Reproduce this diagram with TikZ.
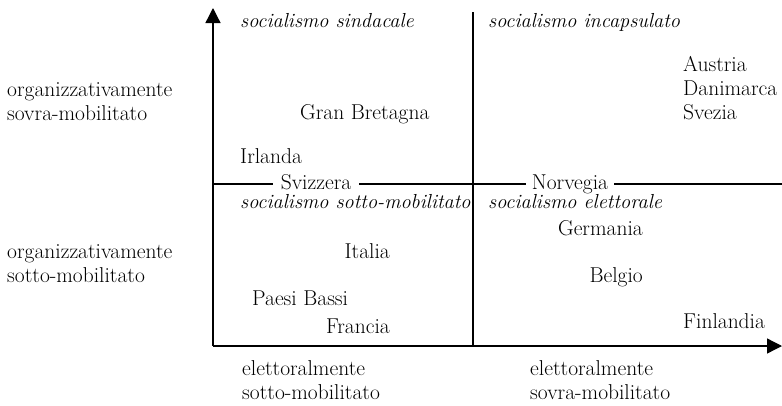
\documentclass[tikz,border=0pt]{standalone}
\usetikzlibrary{arrows.meta}
\begin{document}
\begin{tikzpicture}[x=1pt,y=-1pt,
    lab/.style={font=\fontsize{21.5}{23.5}\selectfont, inner sep=0pt},
    tipo/.style={lab, font=\fontsize{20.3}{23}\selectfont\itshape, anchor=base west},
    paese/.style={lab, anchor=base west},
    asse/.style={line width=1.3pt, -{Triangle[length=15pt,width=15pt]}},
    linea/.style={line width=1.1pt}]
  \useasboundingbox (0,0) rectangle (782,405);
  % axes and dividers
  \coordinate (O) at (213,346);
  \coordinate (ytop) at (213,8);
  \coordinate (xend) at (782,346);
  \coordinate (vtop) at (473,12);
  \coordinate (vbot) at (473,346);
  \coordinate (hleft) at (213,184);
  \coordinate (hright) at (782,184);
  \draw[asse] (O) -- (ytop);
  \draw[asse] (O) -- (xend);
  \draw[linea] (vtop) -- (vbot);
  \node[lab, anchor=base, inner xsep=8pt] (sviz) at (316,189) {Svizzera};
  \node[lab, anchor=base, inner xsep=6pt] (norv) at (570,189) {Norvegia};
  \draw[linea] (hleft) -- (hleft -| sviz.west);
  \draw[linea] (hleft -| sviz.east) -- (hleft -| norv.west);
  \draw[linea] (hleft -| norv.east) -- (hright);
  % types
  \node[tipo] (sind) at (240,27) {socialismo sindacale};
  \node[tipo] (incap) at (488,27) {socialismo incapsulato};
  \node[tipo] (sotto) at (240,208) {socialismo sotto-mobilitato};
  \node[tipo] (elett) at (488,208) {socialismo elettorale};
  % axis labels (base = last line)
  \node[paese, align=left] (orgsovra) at (7,120) {organizzativamente\\sovra-mobilitato};
  \node[paese, align=left] (orgsotto) at (7,282) {organizzativamente\\sotto-mobilitato};
  \node[paese, align=left] (elsotto) at (242,399) {elettoralmente\\sotto-mobilitato};
  \node[paese, align=left] (elsovra) at (530,399) {elettoralmente\\sovra-mobilitato};
  % countries
  \node[paese] (gb) at (300,119) {Gran Bretagna};
  \node[paese, align=left, font=\fontsize{21.5}{24}\selectfont] (scand) at (683,119) {Austria\\Danimarca\\Svezia};
  \node[paese] (irl) at (240,163) {Irlanda};
  \node[lab, anchor=base east] (ger) at (643,235) {Germania};
  \node[lab, anchor=base east] (ita) at (390,258) {Italia};
  \node[lab, anchor=base east] (bel) at (643,282) {Belgio};
  \node[paese] (pb) at (252,305) {Paesi Bassi};
  \node[lab, anchor=base east] (fra) at (390,333) {Francia};
  \node[paese] (fin) at (683,328) {Finlandia};
\end{tikzpicture}
\end{document}
